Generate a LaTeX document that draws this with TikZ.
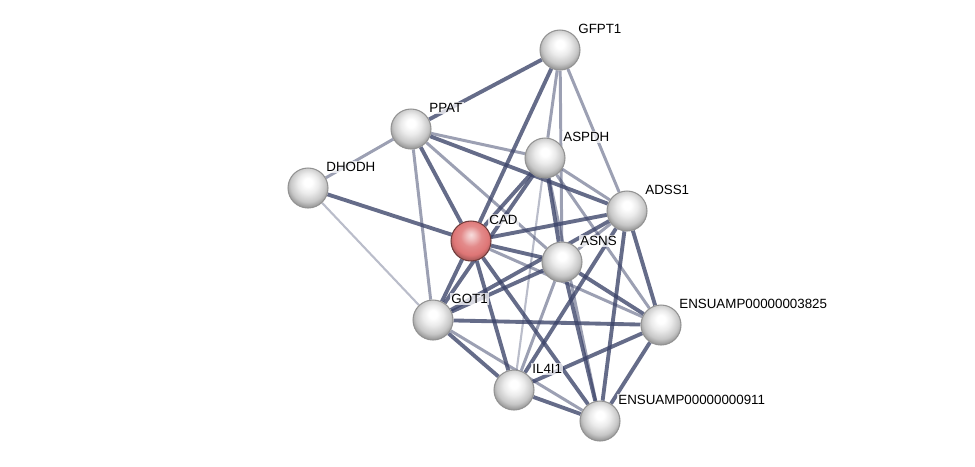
\documentclass[tikz,border=0pt]{standalone}
\usepackage{fontspec}
\setmainfont{Liberation Sans}
\usepackage{tikz}
\usetikzlibrary{positioning,backgrounds}
\usepackage{xcolor}

\definecolor{edgeblue}{RGB}{58,66,104}
\definecolor{cadred}{RGB}{222,118,118}
\pgfdeclareradialshading{sphere}{\pgfpoint{0bp}{8bp}}{color(0bp)=(white); color(5bp)=(white); color(13bp)=(black!8); color(22bp)=(black!22); color(29bp)=(black!45); color(50bp)=(black!45)}
\pgfdeclareradialshading{redsphere}{\pgfpoint{0bp}{8bp}}{color(0bp)=(white!75!cadred); color(5bp)=(white!55!cadred); color(13bp)=(white!15!cadred); color(22bp)=(cadred); color(29bp)=(cadred!70!black); color(50bp)=(cadred!70!black)}

\begin{document}
\begin{tikzpicture}[x=0.02cm, y=-0.02cm,
    protein/.style={circle, minimum size=0.8cm, inner sep=0pt, shade, shading=sphere, draw=gray!85, line width=0.6pt},
    query/.style={protein, shading=redsphere, draw=cadred!50!black},
    lbl/.style={font=\fontsize{7.6}{8}\selectfont, inner sep=0.8pt, fill=white, fill opacity=0.75, text opacity=1, xshift=1.2pt},
    strong/.style={draw=edgeblue, line width=2.2pt, opacity=0.78},
    medium/.style={draw=edgeblue, line width=1.7pt, opacity=0.5},
    weak/.style={draw=edgeblue, line width=1.2pt, opacity=0.35}
]
\useasboundingbox (0,0) rectangle (975,467);

% Proteins
\node (gfpt1) [protein, label={[lbl]45:GFPT1}] at (560,50) {};
\node (ppat) [protein, label={[lbl]45:PPAT}] at (411,129) {};
\node (aspdh) [protein, label={[lbl]45:ASPDH}] at (545,158) {};
\node (dhodh) [protein, label={[lbl]45:DHODH}] at (308,188) {};
\node (adss1) [protein, label={[lbl]45:ADSS1}] at (627,211) {};
\node (cad) [query, label={[lbl]45:CAD}] at (471,241) {};
\node (asns) [protein, label={[lbl]45:ASNS}] at (562,262) {};
\node (got1) [protein, label={[lbl]45:GOT1}] at (433,320) {};
\node (ens3825) [protein, label={[lbl]45:ENSUAMP00000003825}] at (661,325) {};
\node (il4i1) [protein, label={[lbl]45:IL4I1}] at (514,390) {};
\node (ens0911) [protein, label={[lbl]45:ENSUAMP00000000911}] at (600,421) {};

\begin{scope}[on background layer]
% Strong links
\draw[strong] (gfpt1) -- (ppat);
\draw[strong] (gfpt1) -- (cad);
\draw[strong] (dhodh) -- (cad);
\draw[strong] (ppat) -- (cad);
\draw[strong] (ppat) -- (adss1);
\draw[strong] (cad) -- (aspdh);
\draw[strong] (cad) -- (adss1);
\draw[strong] (cad) -- (asns);
\draw[strong] (cad) -- (got1);
\draw[strong] (cad) -- (il4i1);
\draw[strong] (cad) -- (ens0911);
\draw[strong] (aspdh) -- (asns);
\draw[strong] (aspdh) -- (got1);
\draw[strong] (asns) -- (ens3825);
\draw[strong] (asns) -- (ens0911);
\draw[strong] (asns) -- (got1);
\draw[strong] (got1) -- (adss1);
\draw[strong] (got1) -- (ens3825);
\draw[strong] (got1) -- (il4i1);
\draw[strong] (adss1) -- (ens3825);
\draw[strong] (adss1) -- (ens0911);
\draw[strong] (adss1) -- (il4i1);
\draw[strong] (ens3825) -- (il4i1);
\draw[strong] (ens3825) -- (ens0911);
\draw[strong] (il4i1) -- (ens0911);

% Medium links
\draw[medium] (gfpt1) -- (aspdh);
\draw[medium] (gfpt1) -- (asns);
\draw[medium] (gfpt1) -- (adss1);
\draw[medium] (ppat) -- (aspdh);
\draw[medium] (ppat) -- (asns);
\draw[medium] (ppat) -- (got1);
\draw[medium] (dhodh) -- (ppat);
\draw[medium] (aspdh) -- (adss1);
\draw[medium] (aspdh) -- (ens3825);
\draw[medium] (aspdh) -- (ens0911);
\draw[medium] (asns) -- (adss1);
\draw[medium] (asns) -- (il4i1);
\draw[medium] (got1) -- (ens0911);
\draw[medium] (cad) -- (ens3825);

% Weak links
\draw[weak] (dhodh) -- (got1);
\draw[weak] (aspdh) -- (il4i1);
\end{scope}

\end{tikzpicture}
\end{document}
